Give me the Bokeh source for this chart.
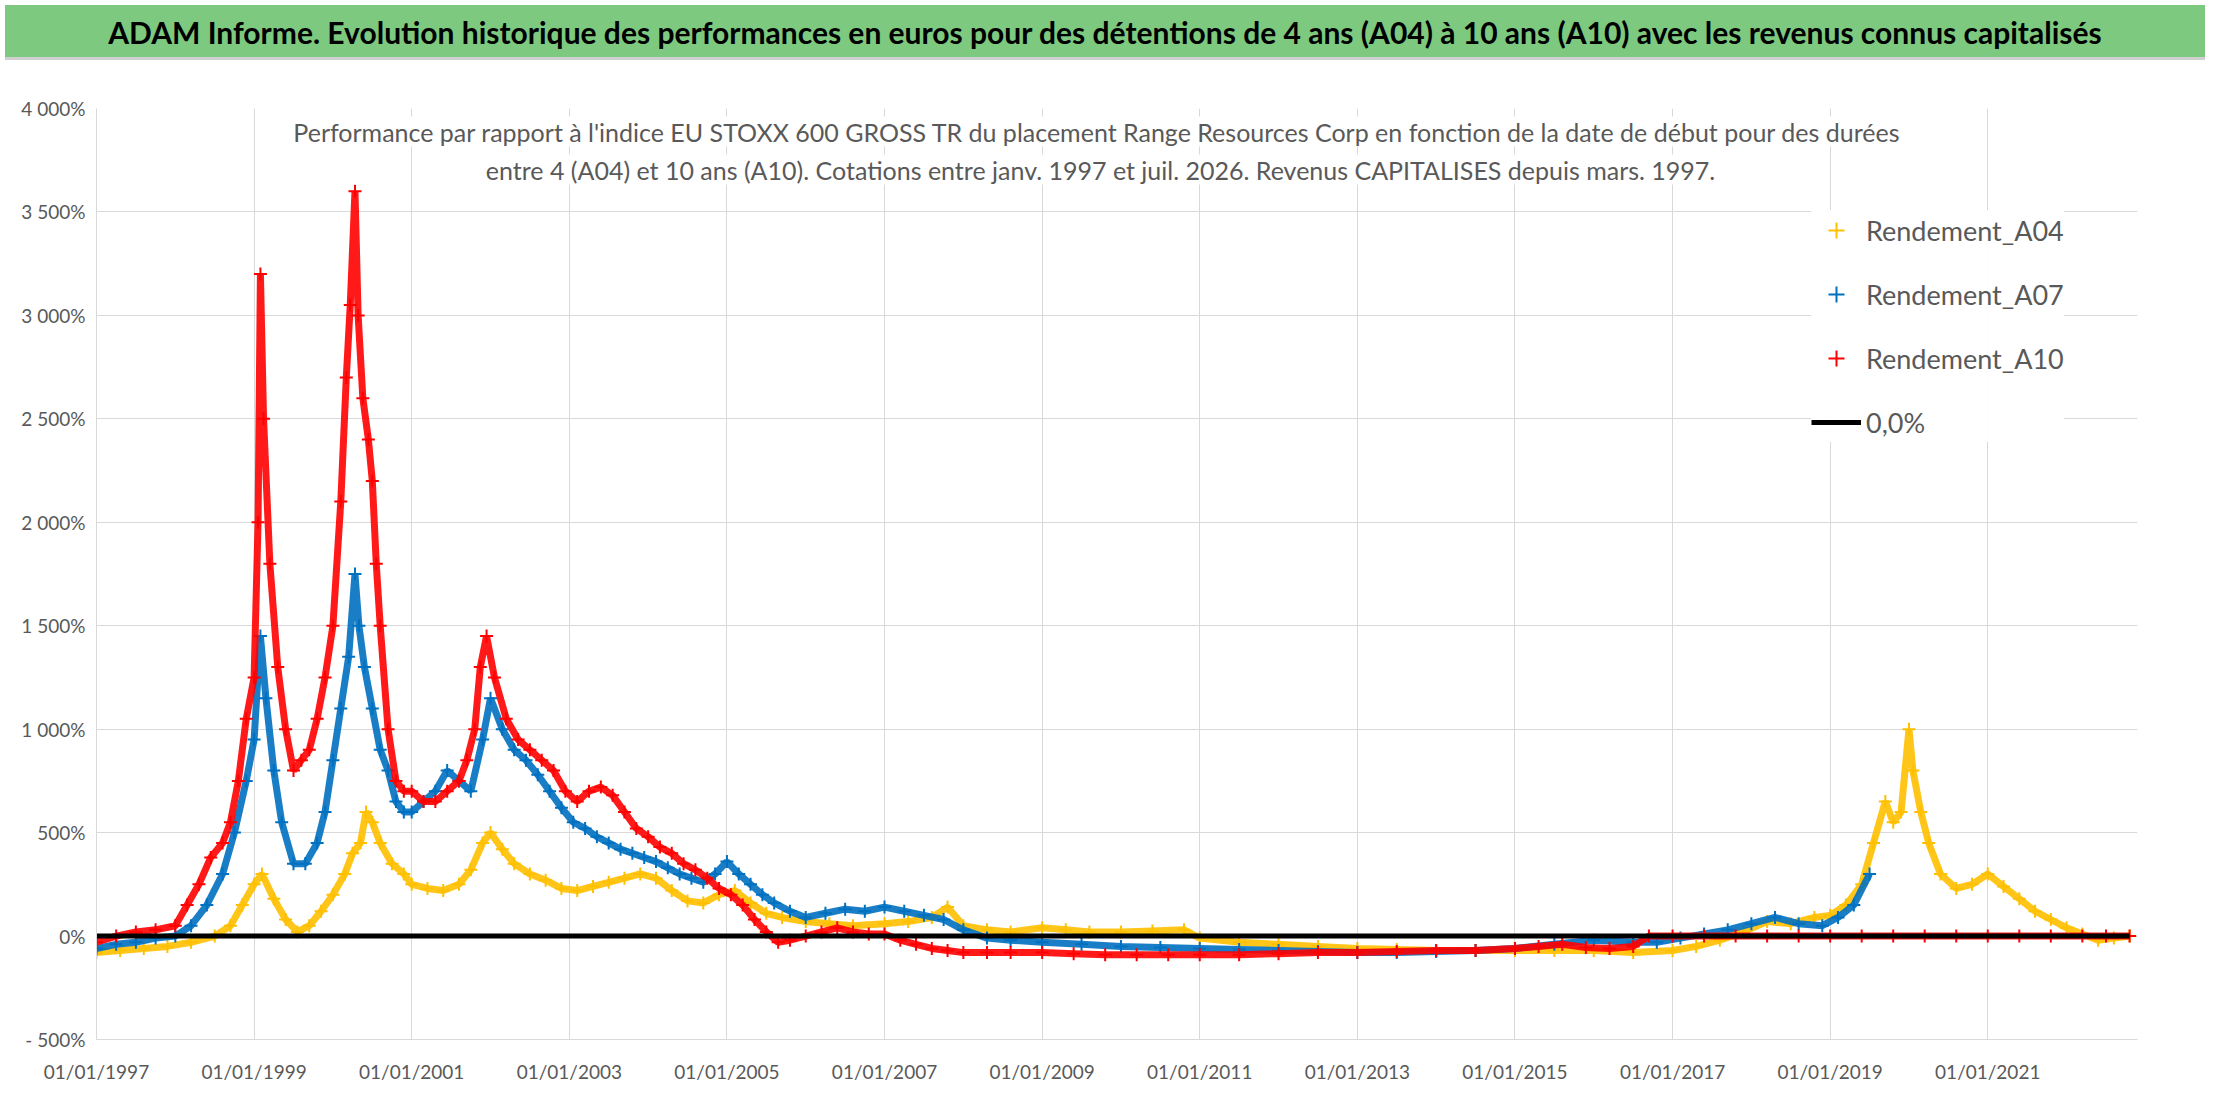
from bokeh.plotting import figure
from bokeh.models import Div, FixedTicker, Legend, LegendItem, Label
from bokeh.layouts import column
from bokeh.embed import file_html
from bokeh.resources import INLINE

TITLE = "ADAM Informe. Evolution historique des performances en euros pour des détentions de 4 ans (A04) à 10 ans (A10) avec les revenus connus capitalisés"
SUB1 = "Performance par rapport à l'indice EU STOXX 600 GROSS TR  du placement Range Resources Corp en fonction de la date de début pour des durées"
SUB2 = "entre 4 (A04) et 10 ans (A10). Cotations entre janv. 1997 et juil. 2026. Revenus CAPITALISES depuis mars. 1997."

x_ticks = [1997, 1999, 2001, 2003, 2005, 2007, 2009, 2011, 2013, 2015, 2017, 2019, 2021]
x_labels = ["01/01/1997", "01/01/1999", "01/01/2001", "01/01/2003", "01/01/2005", "01/01/2007",
            "01/01/2009", "01/01/2011", "01/01/2013", "01/01/2015", "01/01/2017", "01/01/2019", "01/01/2021"]
y_ticks = [-500, 0, 500, 1000, 1500, 2000, 2500, 3000, 3500, 4000]
y_labels = ["- 500%", "0%", "500%", "1 000%", "1 500%", "2 000%", "2 500%", "3 000%", "3 500%", "4 000%"]

a10_x = [1997.0, 1997.25, 1997.5, 1997.75, 1998.0, 1998.15, 1998.3, 1998.45, 1998.6, 1998.7, 1998.8, 1998.9, 1999.0,
         1999.05, 1999.08, 1999.12, 1999.2, 1999.3, 1999.4, 1999.5, 1999.6, 1999.7, 1999.8, 1999.9, 2000.0, 2000.1,
         2000.17, 2000.22, 2000.28, 2000.32, 2000.38, 2000.45, 2000.5, 2000.55, 2000.6, 2000.7, 2000.8, 2000.9, 2001.0,
         2001.15, 2001.3, 2001.45, 2001.6, 2001.7, 2001.8, 2001.87, 2001.95, 2002.05, 2002.2, 2002.35, 2002.5, 2002.65,
         2002.8, 2002.95, 2003.1, 2003.25, 2003.4, 2003.55, 2003.7, 2003.85, 2004.0, 2004.15, 2004.3, 2004.45, 2004.6,
         2004.75, 2004.9, 2005.05, 2005.2, 2005.35, 2005.5, 2005.65, 2005.8, 2006.0, 2006.2, 2006.4, 2006.6, 2006.8,
         2007.0, 2007.2, 2007.4, 2007.6, 2007.8, 2008.0, 2008.3, 2008.6, 2009.0, 2009.4, 2009.8, 2010.2, 2010.6, 2011.0,
         2011.5, 2012.0, 2012.5, 2013.0, 2013.5, 2014.0, 2014.5, 2015.0, 2015.3, 2015.6, 2015.9, 2016.2, 2016.5,
         2016.7, 2017.0, 2017.4, 2017.8, 2018.2, 2018.6, 2019.0, 2019.4, 2019.8, 2020.2, 2020.6, 2021.0, 2021.4,
         2021.8, 2022.2, 2022.5, 2022.8]
a10_y = [-30, 0, 20, 30, 50, 150, 250, 380, 450, 550, 750, 1050, 1250,
         2000, 3200, 2500, 1800, 1300, 1000, 800, 850, 900, 1050, 1250, 1500, 2100,
         2700, 3050, 3600, 3000, 2600, 2400, 2200, 1800, 1500, 1000, 750, 700, 700,
         650, 650, 700, 750, 850, 1000, 1300, 1450, 1250, 1050, 950, 900, 850,
         800, 700, 650, 700, 720, 680, 600, 520, 480, 430, 400, 350, 320,
         280, 230, 200, 150, 80, 20, -30, -20, 0, 20, 40, 20, 10,
         10, -20, -40, -60, -70, -80, -80, -80, -80, -85, -90, -90, -90, -90,
         -90, -85, -80, -80, -75, -70, -70, -60, -50, -40, -55, -60, -50,
         0, 0, 0, 0, 0, 0, 0, 0, 0, 0, 0, 0, 0,
         0, 0, 0, 0]

a07_x = [1997.0, 1997.25, 1997.5, 1997.75, 1998.0, 1998.2, 1998.4, 1998.6, 1998.75, 1998.9, 1999.0, 1999.08, 1999.15,
         1999.25, 1999.35, 1999.5, 1999.65, 1999.8, 1999.9, 2000.0, 2000.1, 2000.2, 2000.28, 2000.33, 2000.4, 2000.5,
         2000.6, 2000.7, 2000.8, 2000.9, 2001.0, 2001.15, 2001.3, 2001.45, 2001.6, 2001.75, 2001.9, 2002.0, 2002.15,
         2002.3, 2002.45, 2002.6, 2002.75, 2002.9, 2003.05, 2003.2, 2003.35, 2003.5, 2003.65, 2003.8, 2003.95, 2004.1,
         2004.25, 2004.4, 2004.55, 2004.7, 2004.85, 2005.0, 2005.15, 2005.3, 2005.45, 2005.6, 2005.8, 2006.0, 2006.25,
         2006.5, 2006.75, 2007.0, 2007.25, 2007.5, 2007.75, 2008.0, 2008.3, 2008.6, 2009.0, 2009.5, 2010.0, 2010.5,
         2011.0, 2011.5, 2012.0, 2012.5, 2013.0, 2013.5, 2014.0, 2014.5, 2015.0, 2015.5, 2016.0, 2016.5, 2016.8,
         2017.1, 2017.4, 2017.7, 2018.0, 2018.3, 2018.6, 2018.9, 2019.1, 2019.3, 2019.5]
a07_y = [-60, -40, -30, -10, 0, 50, 150, 300, 500, 750, 950, 1450, 1150,
         800, 550, 350, 350, 450, 600, 850, 1100, 1350, 1750, 1500, 1300, 1100,
         900, 800, 650, 600, 600, 650, 700, 800, 750, 700, 950, 1150, 1000,
         900, 850, 780, 700, 620, 550, 520, 480, 450, 420, 400, 380, 360,
         330, 300, 280, 260, 300, 360, 300, 250, 200, 160, 120, 90, 110,
         130, 120, 140, 120, 100, 80, 30, -10, -20, -30, -40, -50, -55,
         -60, -65, -70, -75, -80, -80, -75, -70, -60, -40, -20, -30, -30,
         -10, 10, 30, 60, 90, 60, 50, 90, 150, 300]

a04_x = [1997.0, 1997.3, 1997.6, 1997.9, 1998.2, 1998.5, 1998.7, 1998.85, 1999.0, 1999.1, 1999.25, 1999.4, 1999.55,
         1999.7, 1999.85, 2000.0, 2000.15, 2000.25, 2000.35, 2000.42, 2000.5, 2000.6, 2000.75, 2000.9, 2001.0, 2001.2,
         2001.4, 2001.6, 2001.75, 2001.9, 2002.0, 2002.15, 2002.3, 2002.5, 2002.7, 2002.9, 2003.1, 2003.3, 2003.5,
         2003.7, 2003.9, 2004.1, 2004.3, 2004.5, 2004.7, 2004.9, 2005.1, 2005.3, 2005.5, 2005.7, 2006.0, 2006.3,
         2006.6, 2007.0, 2007.3, 2007.6, 2007.8, 2008.0, 2008.3, 2008.6, 2009.0, 2009.3, 2009.6, 2010.0, 2010.4,
         2010.8, 2011.0, 2011.5, 2012.0, 2012.5, 2013.0, 2013.5, 2014.0, 2014.5, 2015.0, 2015.5, 2016.0, 2016.5,
         2017.0, 2017.3, 2017.6, 2017.9, 2018.2, 2018.5, 2018.8, 2019.0, 2019.2, 2019.4, 2019.55, 2019.7, 2019.8,
         2019.9, 2020.0, 2020.05, 2020.15, 2020.25, 2020.4, 2020.6, 2020.8, 2021.0, 2021.2, 2021.4, 2021.6, 2021.8,
         2022.0, 2022.2, 2022.4, 2022.6, 2022.8]
a04_y = [-80, -70, -60, -50, -30, 0, 50, 150, 250, 300, 180, 80, 20,
         50, 120, 200, 300, 400, 450, 600, 550, 450, 350, 300, 250, 230,
         220, 250, 320, 450, 500, 420, 350, 300, 270, 230, 220, 240, 260,
         280, 300, 280, 220, 170, 160, 200, 220, 160, 110, 90, 70, 60,
         50, 60, 70, 90, 140, 50, 30, 20, 40, 30, 20, 20, 25,
         30, -10, -30, -40, -50, -60, -65, -70, -70, -70, -70, -70, -80,
         -70, -50, -20, 20, 70, 60, 90, 100, 150, 250, 450, 650, 550,
         600, 1000, 800, 600, 450, 300, 230, 250, 300, 240, 180, 120, 80,
         40, 10, -20, -10, 0]

zero_x = [1997.0, 2022.8]
zero_y = [0, 0]

FONT = "Lato"
GREY = "#595959"

head = Div(text=TITLE, width=2200, height=55,
           styles={"background-color": "#7dc97f", "color": "#000", "font-family": FONT,
                   "font-weight": "bold", "font-size": "30px", "text-align": "center",
                   "line-height": "55px", "width": "2200px", "height": "55px",
                   "border-bottom": "3px solid #d0d0d0", "white-space": "nowrap"})

p = figure(width=2200, height=1029, output_backend="svg", toolbar_location=None,
           x_range=(1997.0, 2022.9), y_range=(-500, 4000),
           min_border_left=96, min_border_right=63, min_border_top=41, min_border_bottom=57)
p.outline_line_color = None
p.background_fill_color = "white"
p.border_fill_color = "white"

p.xaxis.ticker = FixedTicker(ticks=x_ticks)
p.xaxis.major_label_overrides = {t: l for t, l in zip(x_ticks, x_labels)}
p.yaxis.ticker = FixedTicker(ticks=y_ticks)
p.yaxis.major_label_overrides = {t: l for t, l in zip(y_ticks, y_labels)}
for ax in (p.xaxis, p.yaxis):
    ax.major_tick_line_color = None
    ax.minor_tick_line_color = None
    ax.axis_line_color = "#d9d9d9"
    ax.major_label_text_font = FONT
    ax.major_label_text_font_size = "19px"
    ax.major_label_text_color = GREY
p.xaxis.major_label_standoff = 14
p.xgrid.grid_line_color = "#d9d9d9"
p.ygrid.grid_line_color = "#d9d9d9"
p.xgrid.ticker = FixedTicker(ticks=x_ticks)
p.ygrid.ticker = FixedTicker(ticks=y_ticks)

items = []
for xs, ys, col, name in [(a04_x, a04_y, "#ffc000", "Rendement_A04"),
                          (a07_x, a07_y, "#0070c0", "Rendement_A07"),
                          (a10_x, a10_y, "#ff0000", "Rendement_A10")]:
    p.line(xs, ys, line_color=col, line_width=7, line_alpha=0.9)
    r = p.scatter(xs, ys, marker="cross", size=13, line_color=col, line_width=2)
    items.append(LegendItem(label=name, renderers=[r]))
z = p.line(zero_x, zero_y, line_color="black", line_width=5)
items.append(LegendItem(label="0,0%", renderers=[z]))

leg = Legend(items=items, location=(1715, 931 - 78 - 256), label_text_font=FONT,
             label_text_font_size="27px", label_text_color=GREY, spacing=24,
             label_height=40, glyph_height=40, glyph_width=50, padding=10,
             background_fill_color="white", border_line_color=None)
p.add_layout(leg)

for txt, yoff in [(SUB1, 8), (SUB2, 46)]:
    p.add_layout(Label(x=1100 - 96, y=931 - yoff, x_units="screen", y_units="screen", text=txt,
                       text_align="center", text_baseline="top", text_font=FONT,
                       text_font_size="25px", text_color=GREY,
                       background_fill_color="white"))

layout = column(head, p, spacing=2)
open("out.html", "w").write(file_html(layout, INLINE))
